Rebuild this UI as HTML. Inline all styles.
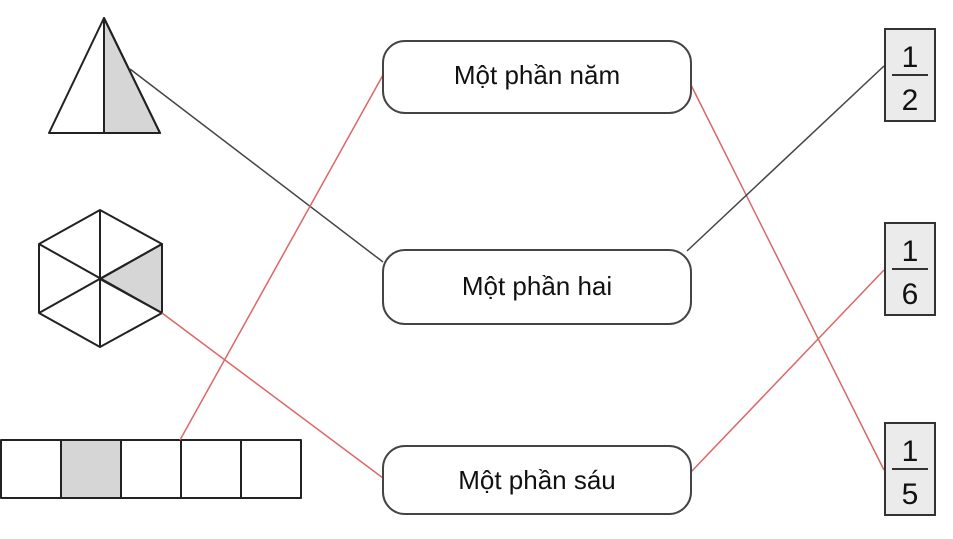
<!DOCTYPE html>
<html><head><meta charset="utf-8"><style>
html,body{margin:0;padding:0;background:#fff;width:953px;height:539px;overflow:hidden}
text{font-family:"Liberation Sans",sans-serif;fill:#111}
</style></head><body>
<svg width="953" height="539" viewBox="0 0 953 539" xmlns="http://www.w3.org/2000/svg">
<g stroke="#222" stroke-width="2" stroke-linejoin="round">
<polygon points="104,18 160,133 104,133" fill="#d6d6d6"/>
<polygon points="104,18 160,133 49,133" fill="none"/>
<line x1="104" y1="18" x2="104" y2="133"/>
<polygon points="100,279 162,244 162,313" fill="#d6d6d6"/>
<polygon points="100,210 162,244 162,313 100,347 39,313 39,244" fill="none"/>
<line x1="100" y1="210" x2="100" y2="347"/>
<line x1="39" y1="244" x2="162" y2="313"/>
<line x1="39" y1="313" x2="162" y2="244"/>
<rect x="61" y="440" width="60" height="58" fill="#d6d6d6"/>
<rect x="1" y="440" width="300" height="58" fill="none"/>
<line x1="61" y1="440" x2="61" y2="498"/><line x1="121" y1="440" x2="121" y2="498"/>
<line x1="181" y1="440" x2="181" y2="498"/><line x1="241" y1="440" x2="241" y2="498"/>
</g>
<g stroke-width="1.5">
<line x1="130" y1="69" x2="383" y2="262" stroke="#444"/>
<line x1="162" y1="313" x2="383" y2="478" stroke="#d66"/>
<line x1="180" y1="440" x2="383" y2="75" stroke="#d66"/>
<line x1="691" y1="85" x2="884" y2="470" stroke="#d66"/>
<line x1="687" y1="251" x2="884" y2="66" stroke="#444"/>
<line x1="691" y1="472" x2="884" y2="270" stroke="#d66"/>
</g>
<g fill="#fff" stroke="#444" stroke-width="2">
<rect x="383" y="41" width="308" height="72" rx="22"/>
<rect x="383" y="250" width="308" height="74" rx="22"/>
<rect x="383" y="446" width="308" height="68" rx="22"/>
</g>
<g font-size="26" text-anchor="middle">
<text x="537" y="84">Một phần năm</text>
<text x="537" y="295">Một phần hai</text>
<text x="537" y="489">Một phần sáu</text>
</g>
<g fill="#ebebeb" stroke="#333" stroke-width="2">
<rect x="885" y="29" width="50" height="92"/>
<rect x="885" y="223" width="50" height="92"/>
<rect x="885" y="423" width="50" height="92"/>
</g>
<g stroke="#333" stroke-width="2">
<line x1="892" y1="75" x2="928" y2="75"/>
<line x1="892" y1="269" x2="928" y2="269"/>
<line x1="892" y1="469" x2="928" y2="469"/>
</g>
<g font-size="30" text-anchor="middle">
<text x="910" y="67">1</text><text x="910" y="110">2</text>
<text x="910" y="261">1</text><text x="910" y="304">6</text>
<text x="910" y="461">1</text><text x="910" y="504">5</text>
</g>
</svg>
</body></html>
